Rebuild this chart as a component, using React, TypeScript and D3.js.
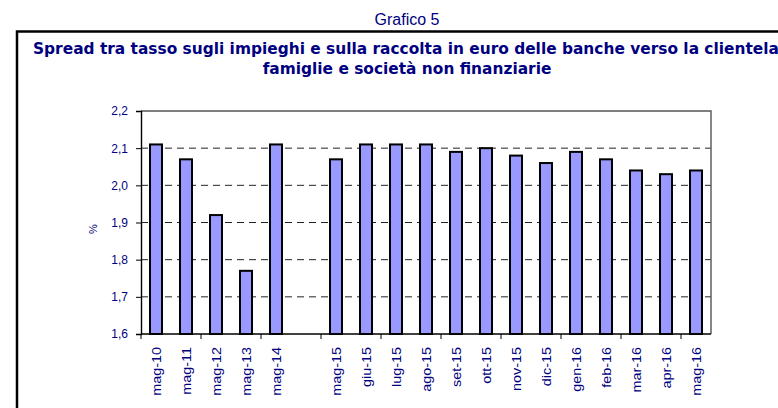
import React, {useEffect, useRef} from "react";
import * as d3 from "d3";

// categories ("" is the empty slot between mag-14 and mag-15)
const categories: string[] = [
    "mag-10", "mag-11", "mag-12", "mag-13", "mag-14", "",
    "mag-15", "giu-15", "lug-15", "ago-15", "set-15", "ott-15", "nov-15",
    "dic-15", "gen-16", "feb-16", "mar-16", "apr-16", "mag-16"
];
const spread: (number | null)[] = [
    2.11, 2.07, 1.92, 1.77, 2.11, null,
    2.07, 2.11, 2.11, 2.11, 2.09, 2.10, 2.08,
    2.06, 2.09, 2.07, 2.04, 2.03, 2.04
];
const yTicks: number[] = [1.6, 1.7, 1.8, 1.9, 2.0, 2.1, 2.2];
const gridTicks: number[] = [1.7, 1.8, 1.9, 2.0, 2.1];

const navy = "#000080";

const App: React.FC = () => {
    const svgRef = useRef<SVGSVGElement>(null);
    const width = 778;
    const height = 408;
    const plot = {left: 141, right: 711, top: 111, bottom: 334};

    useEffect(() => {
        const svg = d3.select(svgRef.current);
        svg.selectAll("*").remove();

        const fmt = d3.formatLocale({decimal: ",", thousands: ".", grouping: [3], currency: ["", "€"]}).format(".1f");

        const x = d3.scaleBand<string>()
            .domain(categories)
            .range([plot.left, plot.right])
            .paddingInner(0.6)
            .paddingOuter(0.3);

        const y = d3.scaleLinear()
            .domain([1.6, 2.2])
            .range([plot.bottom, plot.top]);

        // outer frame
        svg.append("rect")
            .attr("x", 17)
            .attr("y", 31.5)
            .attr("width", 800)
            .attr("height", 420)
            .attr("fill", "none")
            .attr("stroke", "#000")
            .attr("stroke-width", 2.5);

        svg.append("text")
            .attr("x", 407)
            .attr("y", 25)
            .attr("text-anchor", "middle")
            .attr("font-family", "Liberation Sans, Arial, sans-serif")
            .attr("font-size", 16)
            .attr("fill", navy)
            .text("Grafico 5");

        const title = svg.append("g")
            .attr("font-family", "DejaVu Sans, Verdana, sans-serif")
            .attr("font-weight", "bold")
            .attr("font-size", 15.4)
            .attr("fill", navy);
        title.append("text")
            .attr("x", 33)
            .attr("y", 54)
            .text("Spread tra tasso sugli impieghi e sulla raccolta in euro delle banche verso la clientela:");
        title.append("text")
            .attr("x", 407)
            .attr("y", 74)
            .attr("text-anchor", "middle")
            .text("famiglie e società non finanziarie");

        // dashed grid
        svg.append("g")
            .selectAll("line")
            .data(gridTicks)
            .join("line")
            .attr("x1", plot.left)
            .attr("x2", plot.right)
            .attr("y1", d => y(d))
            .attr("y2", d => y(d))
            .attr("stroke", "#222")
            .attr("stroke-width", 1)
            .attr("stroke-dasharray", "7,5");

        // plot frame top/right
        svg.append("path")
            .attr("d", `M${plot.left},${plot.top}H${plot.right}V${plot.bottom}`)
            .attr("fill", "none")
            .attr("stroke", "#555")
            .attr("stroke-width", 1.4);

        // bars
        svg.append("g")
            .selectAll("rect")
            .data(categories.map((c, i) => ({c, v: spread[i]})).filter(d => d.v !== null))
            .join("rect")
            .attr("x", d => x(d.c)!)
            .attr("width", x.bandwidth())
            .attr("y", d => y(d.v as number))
            .attr("height", d => y(1.6) - y(d.v as number))
            .attr("fill", "#9999ff")
            .attr("stroke", "#000")
            .attr("stroke-width", 2);

        // y axis
        const yAxis = svg.append("g")
            .attr("transform", `translate(${plot.left},0)`)
            .call(d3.axisLeft(y).tickValues(yTicks).tickSize(5).tickPadding(8).tickFormat(d => fmt(d as number)));
        yAxis.select(".domain").attr("stroke", "#000").attr("stroke-width", 1.4);
        yAxis.selectAll(".tick line").attr("stroke", "#000");
        yAxis.selectAll("text")
            .attr("font-family", "Liberation Sans, Arial, sans-serif")
            .attr("font-size", 12)
            .attr("fill", navy);

        // x axis: line, ticks every two categories, rotated labels
        const half = (x.step() - x.bandwidth()) / 2;
        const tickCats = categories.filter((_, i) => i % 2 === 0);
        const xAxis = svg.append("g");
        xAxis.append("line")
            .attr("x1", plot.left)
            .attr("x2", plot.right)
            .attr("y1", plot.bottom)
            .attr("y2", plot.bottom)
            .attr("stroke", "#000")
            .attr("stroke-width", 1.4);
        xAxis.selectAll("line.tick")
            .data(tickCats)
            .join("line")
            .attr("class", "tick")
            .attr("x1", d => x(d)! - half)
            .attr("x2", d => x(d)! - half)
            .attr("y1", plot.bottom)
            .attr("y2", plot.bottom + 5)
            .attr("stroke", "#000");
        xAxis.selectAll("text")
            .data(categories.filter(c => c !== ""))
            .join("text")
            .attr("transform", d => `translate(${x(d)! + x.bandwidth() / 2 + 1},${plot.bottom + 13}) scale(1,1.2) rotate(-90)`)
            .attr("text-anchor", "end")
            .attr("dominant-baseline", "central")
            .attr("font-family", "Liberation Sans, Arial, sans-serif")
            .attr("font-size", 12)
            .attr("fill", navy)
            .text(d => d);

        svg.append("text")
            .attr("transform", `translate(93,229) rotate(-90)`)
            .attr("text-anchor", "middle")
            .attr("dominant-baseline", "central")
            .attr("font-family", "Liberation Sans, Arial, sans-serif")
            .attr("font-size", 11)
            .attr("fill", navy)
            .text("%");
    }, []);

    return (
        <div style={{position: "fixed", left: 0, top: 0}}>
            <svg ref={svgRef} width={width} height={height} style={{display: "block", background: "#fff"}}></svg>
        </div>
    );
};

export default App;
